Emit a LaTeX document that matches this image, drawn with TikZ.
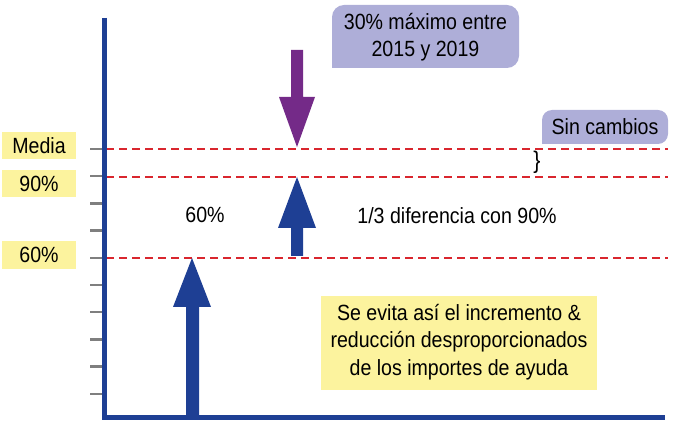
\documentclass[tikz,border=0pt]{standalone}
\usepackage{fontspec}
\setmainfont{Liberation Sans}[FakeStretch=0.89]
\definecolor{axisblue}{HTML}{1E3F94}
\definecolor{lblyellow}{HTML}{FCF39E}
\definecolor{lav}{HTML}{AEAED8}
\definecolor{dashred}{HTML}{D9262E}
\definecolor{purp}{HTML}{742A88}
\definecolor{tickgray}{HTML}{7F7F7F}
\tikzset{
  lbl/.style={fill=lblyellow, inner sep=0pt, font=\fontsize{22}{26}\selectfont, anchor=center},
  plain/.style={inner sep=0pt, font=\fontsize{22}{26}\selectfont, align=center},
  refline/.style={dashred, line width=2pt, dash pattern=on 8pt off 5pt},
  axisline/.style={axisblue, line width=5pt},
  tickline/.style={tickgray, line width=2.5pt},
}
\begin{document}
\begin{tikzpicture}[x=1pt,y=-1pt]
\useasboundingbox (0,0) rectangle (673,422);
% ticks
\foreach \yy in {149,176.2,203.4,230.6,257.8,285,312.2,339.4,366.6,393.8}
  \draw[tickline] (90,\yy) -- (102,\yy);
% reference lines
\coordinate (m0) at (106,149); \coordinate (m1) at (668,149);
\coordinate (n0) at (106,177); \coordinate (n1) at (668,177);
\coordinate (s0) at (106,258); \coordinate (s1) at (668,258);
\draw[refline] (m0) -- (m1);
\draw[refline] (n0) -- (n1);
\draw[refline] (s0) -- (s1);
% axes
\coordinate (top) at (104.5,18);
\coordinate (org) at (104.5,418);
\coordinate (xend) at (665,418);
\draw[axisline] (top) -- (org) -- (xend);
% left labels
\node[lbl, minimum width=74pt, minimum height=27pt] (media) at (39,145.5) {Media};
\node[lbl, minimum width=74pt, minimum height=27pt] (p90) at (39,183.5) {90\%};
\node[lbl, minimum width=74pt, minimum height=28pt] (p60) at (39,255) {60\%};
% top lavender box
\fill[lav, rounded corners=12pt] (332,68) [sharp corners] -- (332,18) [rounded corners=12pt] -- (332,5) -- (519,5) -- (519,68) [sharp corners] -- cycle;
\node[plain, font=\fontsize{22}{27.5}\selectfont] (maxbox) at (425.5,37) {30\% máximo entre\\2015 y 2019};
% sin cambios box
\fill[lav, rounded corners=10pt] (542,144) [sharp corners] -- (542,125) [rounded corners=10pt] -- (542,110) -- (668,110) -- (668,144) [sharp corners] -- cycle;
\node[plain] (sin) at (605,127) {Sin cambios};
% brace
\node[inner sep=0pt, font=\fontsize{24}{26}\selectfont] (brace) at (537,162) {\}};
% purple down arrow
\fill[purp] (291,50) -- (303,50) -- (303,97) -- (315,97) -- (297,147) -- (279,97) -- (291,97) -- cycle;
% middle blue up arrow
\fill[axisblue] (291,256) -- (303,256) -- (303,228) -- (316,228) -- (297,177) -- (278,228) -- (291,228) -- cycle;
% big blue up arrow
\fill[axisblue] (186,418) -- (199,418) -- (199,307) -- (211,307) -- (192,258) -- (173,307) -- (186,307) -- cycle;
% texts
\node[plain] (sixty) at (205,215) {60\%};
\node[plain] (third) at (457,216) {1/3 diferencia con 90\%};
% bottom yellow box
\fill[lblyellow] (321,296) rectangle (597,390);
\node[plain, font=\fontsize{22}{27.5}\selectfont] (evita) at (459,342) {Se evita así el incremento \&\\reducción desproporcionados\\de los importes de ayuda};
\end{tikzpicture}
\end{document}
